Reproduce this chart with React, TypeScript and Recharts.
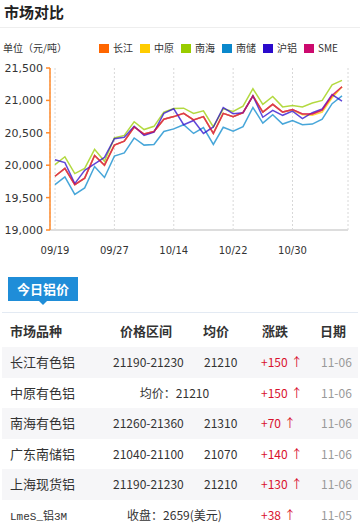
import { CartesianGrid, Line, LineChart, XAxis, YAxis } from "recharts";

// trading days shown on the chart
const dates = [
    '09/19', '09/20', '09/21', '09/24', '09/25', '09/26', '09/27', '09/28', '10/09', '10/10',
    '10/11', '10/12', '10/14', '10/15', '10/16', '10/17', '10/18', '10/19', '10/22', '10/23',
    '10/24', '10/25', '10/26', '10/29', '10/30', '10/31', '11/01', '11/02', '11/05', '11/06',
];

const changjiang = [19830, 19950, 19700, 19800, 20150, 20000, 20310, 20370, 20590, 20480, 20520, 20710, 20750, 20800, 20700, 20750, 20490, 20800, 20750, 20810, 21070, 20820, 20940, 20820, 20860, 20790, 20790, 20850, 21060, 21210];
const zhongyuan = [19830, 19950, 19700, 19800, 20150, 20000, 20310, 20370, 20590, 20480, 20520, 20710, 20750, 20800, 20700, 20750, 20490, 20800, 20750, 20810, 21070, 20820, 20940, 20820, 20850, 20780, 20770, 20820, 21040, 21210];
const nanhai = [20010, 20130, 19870, 19950, 20245, 20060, 20420, 20460, 20670, 20550, 20600, 20820, 20875, 20880, 20800, 20840, 20590, 20870, 20830, 20910, 21180, 20940, 21060, 20900, 20920, 20900, 20960, 21000, 21240, 21310];
const nanchu = [19700, 19820, 19550, 19650, 19980, 19810, 20140, 20190, 20420, 20310, 20320, 20520, 20560, 20625, 20490, 20580, 20320, 20585, 20525, 20595, 20890, 20650, 20780, 20635, 20690, 20625, 20635, 20710, 20950, 21070];
const hulv = [20085, 20040, 19715, 19920, 20020, 20120, 20410, 20430, 20600, 20460, 20510, 20800, 20870, 20625, 20690, 20490, 20590, 20890, 20795, 20810, 21070, 20740, 20845, 20770, 20835, 20720, 20810, 20870, 21090, 20990];
const sme = [19830, 19950, 19700, 19800, 20150, 20000, 20310, 20370, 20590, 20480, 20520, 20710, 20750, 20800, 20700, 20750, 20490, 20800, 20750, 20810, 21070, 20820, 20940, 20820, 20860, 20790, 20790, 20850, 21080, 21210];

const yTicks = [19000, 19500, 20000, 20500, 21000, 21500];

const series = [
    { key: 'cj', name: '长江', color: '#ff6600', values: changjiang },
    { key: 'zy', name: '中原', color: '#ffcc00', values: zhongyuan },
    { key: 'nh', name: '南海', color: '#99cc00', values: nanhai },
    { key: 'nc', name: '南储', color: '#0a88cc', values: nanchu },
    { key: 'hl', name: '沪铝', color: '#2a0acc', values: hulv },
    { key: 'sme', name: 'SME', color: '#cc0a6e', values: sme },
];

const data = dates.map((date, i) => {
    const row: Record<string, string | number> = { date };
    series.forEach(s => { row[s.key] = s.values[i]; });
    return row;
});

// today's quote table
const markets = ['长江有色铝', '中原有色铝', '南海有色铝', '广东南储铝', '上海现货铝', 'LmeS_铝3M'];
const priceRanges = ['21190-21230', '', '21260-21360', '21040-21100', '21190-21230', ''];
const avgPrices = ['21210', '', '21310', '21070', '21210', ''];
const mergedNotes = ['', '均价：21210', '', '', '', '收盘：2659(美元)'];
const changes = ['+150', '+150', '+70', '+140', '+130', '+38'];
const quoteDates = ['11-06', '11-06', '11-06', '11-06', '11-06', '11-05'];
const headers = ['市场品种', '价格区间', '均价', '涨跌', '日期'];
const headerX = [10, 120, 203, 262, 320];

const cjk = '"Noto Sans CJK SC", "DejaVu Sans", sans-serif';

export default function App() {
    return (
        <div style={{ position: 'absolute', left: 0, top: 0, width: 360, height: 530, background: '#fff', fontFamily: cjk, overflow: 'hidden' }}>
            <style>{'body{margin:0}'}</style>

            <div style={{ position: 'absolute', left: 4, top: 2, fontSize: 15, fontWeight: 'bold', color: '#222', lineHeight: '20px' }}>市场对比</div>
            <div style={{ position: 'absolute', left: 0, top: 27, width: 360, height: 1, background: '#eeeeee' }} />

            <div style={{ position: 'absolute', left: 3, top: 41, fontSize: 10, color: '#333', lineHeight: '14px' }}>单位（元/吨）</div>
            <div style={{ position: 'absolute', left: 99, top: 41, display: 'flex', fontSize: 10, color: '#333', lineHeight: '14px' }}>
                {series.map(s => (
                    <div key={s.key} style={{ display: 'flex', alignItems: 'center', marginRight: 7 }}>
                        <span style={{ width: 10, height: 9, background: s.color, marginRight: 4 }} />
                        <span>{s.name}</span>
                    </div>
                ))}
            </div>

            <div style={{ position: 'absolute', left: 0, top: 30 }}>
                <LineChart width={360} height={230} data={data} margin={{ top: 38, right: 12, bottom: 5, left: 0 }}>
                    <CartesianGrid horizontal={false} stroke="#d8d8d8" strokeDasharray="2 2" />
                    <XAxis
                        dataKey="date"
                        interval={5}
                        height={25}
                        padding={{ left: 5, right: 6 }}
                        tickLine={false}
                        tickMargin={11}
                        axisLine={{ stroke: '#dddddd', strokeWidth: 2 }}
                        tick={{ fill: '#333', fontSize: 10, fontFamily: 'DejaVu Sans' }}
                    />
                    <YAxis
                        width={50}
                        domain={[19000, 21500]}
                        ticks={yTicks}
                        tickSize={4}
                        tickMargin={3}
                        axisLine={{ stroke: '#ff8a2a', strokeWidth: 1.5 }}
                        tickLine={{ stroke: '#ff8a2a', strokeWidth: 1.5 }}
                        tickFormatter={(v: number) => v.toLocaleString('en-US')}
                        tick={{ fill: '#333', fontSize: 11, fontFamily: 'DejaVu Sans' }}
                    />
                    {series.map(s => (
                        <Line
                            key={s.key}
                            type="linear"
                            dataKey={s.key}
                            name={s.name}
                            stroke={s.color}
                            strokeOpacity={0.75}
                            strokeWidth={1.5}
                            dot={false}
                            isAnimationActive={false}
                        />
                    ))}
                </LineChart>
            </div>

            <div style={{ position: 'absolute', left: 8, top: 277, width: 70, height: 24, background: '#1f8dd8', color: '#fff', fontSize: 13, fontWeight: 'bold', lineHeight: '24px', textAlign: 'center' }}>今日铝价</div>
            <div style={{ position: 'absolute', left: 39, top: 301, width: 0, height: 0, borderLeft: '4px solid transparent', borderRight: '4px solid transparent', borderTop: '4px solid #1f8dd8' }} />
            <div style={{ position: 'absolute', left: 2, top: 312, width: 356, height: 1, background: '#e3eaf3' }} />

            {headers.map((h, i) => (
                <div key={h} style={{ position: 'absolute', left: headerX[i], top: 322, fontSize: 13, fontWeight: 'bold', color: '#333', lineHeight: '18px' }}>{h}</div>
            ))}

            {markets.map((m, i) => {
                const top = 347 + i * 30.5;
                return (
                    <div key={m} style={{ position: 'absolute', left: 2, top, width: 356, height: 30.5, background: i % 2 === 0 ? '#f6f6f8' : '#fff', lineHeight: '30px', color: '#333' }}>
                        <span style={{ position: 'absolute', left: 8, fontSize: i === 5 ? 11 : 13, fontFamily: i === 5 ? '"Liberation Mono", monospace' : cjk }}>
                            {i === 5 ? <>LmeS_<span style={{ fontFamily: cjk }}>铝</span>3M</> : m}
                        </span>
                        {mergedNotes[i] ? (
                            <span style={{ position: 'absolute', left: 111, width: 123, textAlign: 'center', fontSize: 12 }}>{mergedNotes[i]}</span>
                        ) : (
                            <>
                                <span style={{ position: 'absolute', left: 111, fontSize: 12 }}>{priceRanges[i]}</span>
                                <span style={{ position: 'absolute', left: 202, fontSize: 12 }}>{avgPrices[i]}</span>
                            </>
                        )}
                        <span style={{ position: 'absolute', left: 259, fontSize: 12, color: '#d9122e' }}>{changes[i]}<span style={{ marginLeft: 3 }}>↑</span></span>
                        <span style={{ position: 'absolute', left: 319, fontSize: 12, color: '#999' }}>{quoteDates[i]}</span>
                    </div>
                );
            })}
        </div>
    );
}
